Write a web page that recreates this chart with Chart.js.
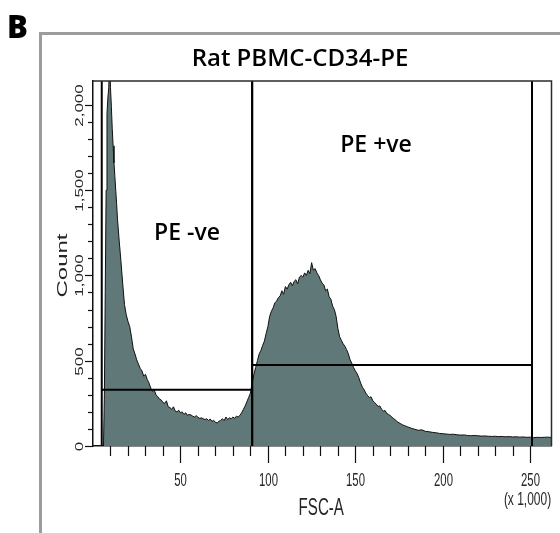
<!DOCTYPE html>
<html lang="en">
<head>
  <meta charset="UTF-8" />
  <title>Rat PBMC-CD34-PE</title>
  <script src="https://cdn.jsdelivr.net/npm/chart.js"></script>
  <style>
    body {
      margin: 0;
      background: #fff;
      font-family: "Open Sans", "Noto Sans", sans-serif;
    }
    .figure {
      position: relative;
      width: 560px;
      height: 533px;
      overflow: hidden;
    }
    .frame {
      position: absolute;
      left: 39px;
      top: 32px;
      width: 540px;
      height: 540px;
      border-top: 3px solid #9c9c9c;
      border-left: 3px solid #9c9c9c;
    }
    .panel {
      position: absolute;
      left: 7px;
      top: 11px;
      font-size: 31px;
      font-weight: 800;
      line-height: 1;
    }
    .title {
      position: absolute;
      left: 0;
      width: 600px;
      top: 45px;
      text-align: center;
      font-size: 24px;
      font-weight: 600;
      line-height: 1;
    }
    .gate {
      position: absolute;
      font-size: 23px;
      font-weight: 600;
      line-height: 1;
      transform: translate(-50%, -50%);
      white-space: nowrap;
    }
    .chart-box {
      position: absolute;
      left: 0;
      top: 0;
      width: 560px;
      height: 533px;
    }
  </style>
</head>
<body>
  <div class="figure">
    <div class="frame"></div>
    <div class="chart-box"><canvas id="fscChart"></canvas></div>
    <div class="panel">B</div>
    <div class="title">Rat PBMC-CD34-PE</div>
    <div class="gate" style="left:187px; top:231px;">PE -ve</div>
    <div class="gate" style="left:376px; top:143px;">PE +ve</div>
  </div>

  <script>
    // FSC-A channel (x 1,000) and event count
    const fsc = [0, 5.5, 6, 6.5, 7, 7.5, 8, 8.5, 9, 9.5, 10, 10.5, 11, 11.5, 12, 12.5, 13, 13.5,
      14, 15, 16, 17, 18, 19, 20, 21, 22, 23, 24, 25, 26, 27, 28, 29, 30, 31, 32, 33, 34, 35,
      36, 37, 38, 39, 40, 41, 42, 43, 44, 45, 46, 47, 48, 49, 50, 51, 52, 53, 54, 55, 56, 57,
      58, 59, 60, 61, 62, 63, 64, 65, 66, 67, 68, 69, 70, 71, 72, 73, 74, 75, 76, 77, 78, 79,
      80, 81, 82, 83, 84, 85, 86, 87, 88, 89, 90, 91, 92, 93, 94, 95, 96, 97, 98, 99, 100,
      101, 102, 103, 104, 105, 106, 107, 108, 109, 110, 111, 112, 113, 114, 115, 116, 117,
      118, 119, 120, 121, 122, 123, 124, 125, 126, 127, 128, 129, 130, 131, 132, 133, 134,
      135, 136, 137, 138, 139, 140, 141, 142, 143, 144, 145, 146, 147, 148, 149, 150, 151,
      152, 153, 154, 155, 156, 157, 158, 159, 160, 161, 162, 163, 164, 165, 166, 167, 168,
      169, 170, 171, 172, 173, 174, 175, 176, 177, 178, 179, 180, 182, 184, 186, 188, 190,
      192, 194, 196, 198, 200, 202, 204, 206, 208, 210, 212, 214, 216, 218, 220, 222, 224,
      226, 228, 230, 232, 234, 236, 238, 240, 242, 244, 246, 248, 250, 252, 254, 256, 258,
      260, 262];
    const counts = [0, 0, 0, 300, 900, 1500, 1950, 2040, 2100, 2300, 2100, 1990, 1860, 1760, 1660, 1580, 1500, 1420,
      1330, 1200, 1080, 950, 830, 770, 730, 700, 640, 570, 540, 505, 480, 455, 440, 410, 420, 390, 370, 340, 320, 330,
      300, 290, 275, 270, 255, 250, 265, 230, 225, 215, 230, 205, 200, 210, 195, 200, 185, 195, 180, 185, 182, 175,
      170, 178, 168, 162, 165, 160, 155, 160, 150, 158, 145, 150, 140, 135, 145, 150, 160, 148, 170, 155, 165, 160,
      170, 162, 175, 170, 180, 195, 215, 235, 260, 285, 310, 370, 420, 460, 500, 540, 560, 590, 615, 660, 700,
      760, 790, 810, 840, 850, 870, 880, 910, 890, 935, 920, 945, 960, 940, 965, 975, 950,
      990, 1000, 990, 1015, 1000, 1030, 1010, 1075, 1030, 1040, 1015, 1000, 975, 955, 945, 910, 920,
      875, 860, 820, 800, 760, 690, 640, 620, 600, 585, 565, 540, 505, 485, 460, 440, 425,
      400, 370, 345, 330, 310, 295, 285, 288, 265, 255, 245, 232, 235, 215, 205, 208, 190,
      185, 178, 168, 160, 152, 142, 136, 130, 124, 120, 116, 112, 104, 98, 92, 95, 86,
      84, 80, 78, 74, 72, 70, 68, 69, 66, 64, 65, 62, 60, 62, 60, 58, 59,
      57, 56, 57, 55, 56, 54, 55, 53, 54, 52, 53, 51, 52, 49, 51, 50, 51,
      52, 50];

    // gates: start / end on FSC-A and the level of the horizontal bar
    const gateStart = [5, 91];
    const gateEnd = [91, 251];
    const gateLevel = [330, 475];

    const xMax = 262.144;
    const yMax = 2140;
    const xLabelStep = 50;
    const yLabelStep = 500;

    const histColor = '#607878';
    const axisFont = '"Liberation Sans", Arial, sans-serif';
    const squeeze = 0.63;

    function squishText(ctx, text, x, y, size, upright) {
      ctx.save();
      ctx.translate(x, y);
      ctx.scale(squeeze, 1);
      if (upright) ctx.rotate(-Math.PI / 2);
      ctx.font = size + 'px ' + axisFont;
      ctx.fillStyle = '#262626';
      ctx.textAlign = 'center';
      ctx.textBaseline = 'middle';
      ctx.fillText(text, 0, 0);
      ctx.restore();
    }

    const flowAxes = {
      id: 'flowAxes',
      afterDraw(chart) {
        const ctx = chart.ctx;
        const area = chart.chartArea;
        const xs = chart.scales.x;
        const ys = chart.scales.y;

        ctx.save();
        ctx.strokeStyle = '#2b2b2b';
        ctx.lineWidth = 1.5;
        ctx.beginPath();
        ctx.moveTo(area.left, area.top);
        ctx.lineTo(area.right, area.top);
        ctx.lineTo(area.right, area.bottom);
        ctx.stroke();

        ctx.strokeStyle = '#111';
        ctx.lineWidth = 1.2;
        xs.ticks.forEach(t => {
          if (t.value <= 0 || t.value % 10 !== 0) return;
          const px = Math.round(xs.getPixelForValue(t.value)) + 0.5;
          const len = t.value % xLabelStep === 0 ? 17 : 10;
          ctx.beginPath();
          ctx.moveTo(px, area.bottom);
          ctx.lineTo(px, area.bottom + len);
          ctx.stroke();
          if (t.value % xLabelStep === 0) {
            squishText(ctx, String(t.value), px, area.bottom + 35, 18, false);
          }
        });

        ys.ticks.forEach(t => {
          if (t.value % 100 !== 0) return;
          const py = Math.round(ys.getPixelForValue(t.value)) + 0.5;
          const len = t.value % yLabelStep === 0 ? 8 : 5;
          ctx.beginPath();
          ctx.moveTo(area.left, py);
          ctx.lineTo(area.left - len, py);
          ctx.stroke();
          if (t.value % yLabelStep === 0) {
            squishText(ctx, t.value.toLocaleString('en-US'), area.left - 13, py, 17, true);
          }
        });

        squishText(ctx, 'Count', area.left - 30, (area.top + area.bottom) / 2 + 2, 24, true);
        squishText(ctx, 'FSC-A', (area.left + area.right) / 2 - 1, area.bottom + 62, 24, false);
        squishText(ctx, '(x 1,000)', area.right - 24, area.bottom + 54, 19, false);
        ctx.restore();
      }
    };

    const gateSets = [];
    gateStart.forEach((s, i) => {
      const e = gateEnd[i];
      const lvl = gateLevel[i];
      [
        [{ x: s, y: yMax }, { x: s, y: 0 }],
        [{ x: s, y: lvl }, { x: e, y: lvl }],
        [{ x: e, y: 0 }, { x: e, y: yMax }]
      ].forEach(seg => gateSets.push({
        data: seg,
        borderColor: '#000',
        borderWidth: 2,
        pointRadius: 0,
        fill: false,
        order: 1
      }));
    });

    const ctx = document.getElementById('fscChart').getContext('2d');
    new Chart(ctx, {
      type: 'line',
      data: {
        datasets: [{
          label: 'Count',
          data: fsc.map((x, i) => ({ x: x, y: counts[i] })),
          borderColor: '#111',
          borderWidth: 1,
          backgroundColor: histColor,
          fill: 'origin',
          pointRadius: 0,
          tension: 0,
          order: 2
        }].concat(gateSets)
      },
      options: {
        responsive: true,
        maintainAspectRatio: false,
        animation: false,
        layout: {
          padding: { left: 93, right: 8.5, top: 81, bottom: 87 }
        },
        scales: {
          x: {
            type: 'linear',
            min: 0,
            max: xMax,
            ticks: { stepSize: 10, display: false },
            grid: { display: false, drawTicks: false },
            border: { display: true, color: '#111', width: 1.5 },
            afterFit: s => { s.height = 0; }
          },
          y: {
            min: 0,
            max: yMax,
            ticks: { stepSize: 100, display: false },
            grid: { display: false, drawTicks: false },
            border: { display: true, color: '#111', width: 1.5 },
            afterFit: s => { s.width = 0; }
          }
        },
        plugins: {
          legend: { display: false },
          tooltip: { enabled: false }
        }
      },
      plugins: [flowAxes]
    });
  </script>
</body>
</html>
